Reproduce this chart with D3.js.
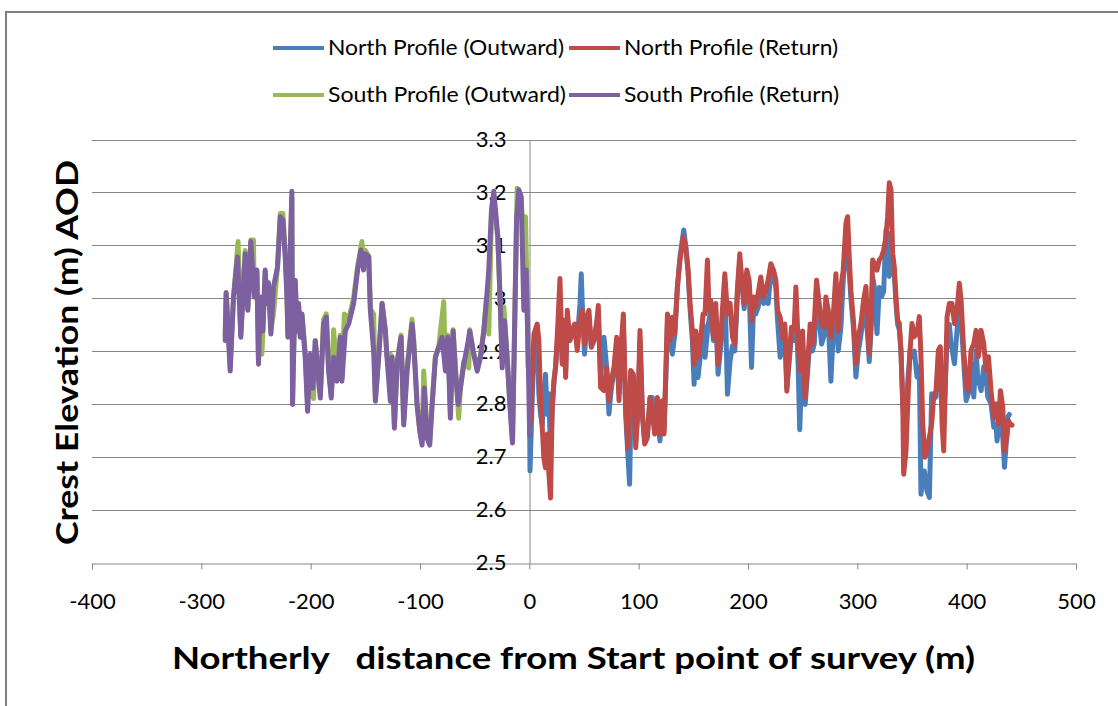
<!DOCTYPE html>
<html>
<head>
<meta charset="utf-8">
<script src="https://cdn.jsdelivr.net/npm/d3@7"></script>
<style>
  html, body { margin: 0; padding: 0; background: #fff; }
  svg { display: block; }
</style>
</head>
<body>
<script>
// Crest elevation survey: distance (m) and elevation (m AOD) pairs for each walk.
const northOutward = [
  [0.3,2.76],[0.6,2.673],[2.5,2.80],[4.2,2.90],[7.2,2.93],[8.7,2.819],[10.3,2.78],[11.8,2.76],[13.3,2.82],[14.8,2.856],
  [16.4,2.78],[17.9,2.819],[19.4,2.70],[20.9,2.79],[22.5,2.84],[24.0,2.87],[26.1,2.93],[28.0,3.00],[30.1,2.88],[31.6,2.95],
  [33.2,2.86],[34.7,2.96],[37.1,2.92],[39.3,2.94],[41.4,2.93],[43.8,2.92],[46.3,2.99],[47.5,3.046],[48.4,2.99],[50.5,2.894],
  [52.4,2.95],[54.5,2.96],[56.7,2.91],[59.1,2.92],[61.5,2.95],[63.1,2.97],[65.2,2.85],[68.3,2.926],[70.7,2.87],[72.8,2.781],
  [75.0,2.83],[77.4,2.86],[79.9,2.91],[82.0,2.82],[83.5,2.88],[86.0,2.95],[88.1,2.78],[90.2,2.70],[91.7,2.648],[93.5,2.85],
  [95.1,2.85],[97.3,2.73],[99.4,2.79],[101.2,2.92],[103.4,2.78],[105.5,2.73],[107.9,2.74],[110.4,2.812],[112.5,2.812],[114.7,2.76],
  [117.1,2.78],[119.5,2.73],[121.7,2.80],[123.2,2.75],[124.7,2.84],[126.3,2.95],[128.7,2.92],[130.8,2.894],[133.0,2.93],[135.4,3.02],
  [137.8,3.078],[141.2,3.129],[143.0,3.10],[145.2,3.05],[147.0,2.98],[149.1,2.92],[150.7,2.837],[152.2,2.92],[154.3,2.85],[156.8,2.90],
  [158.9,2.95],[160.7,2.888],[162.9,2.938],[164.4,2.96],[165.9,2.98],[168.4,2.92],[170.5,2.97],[172.6,2.856],[175.1,2.91],[176.6,2.96],
  [178.8,3.03],[181.2,2.818],[183.6,2.881],[185.8,2.91],[187.9,2.90],[190.4,3.01],[192.5,3.07],[194.3,3.03],[196.5,2.98],[198.9,3.04],
  [201.0,3.02],[203.2,2.869],[205.0,2.98],[207.1,2.97],[209.3,2.983],[211.7,3.02],[214.2,2.99],[216.3,3.00],[218.4,2.99],[220.9,3.05],
  [223.3,3.04],[225.5,3.02],[227.0,2.96],[229.4,2.888],[231.6,2.91],[233.7,2.94],[235.5,2.83],[237.7,2.88],[239.8,2.93],[242.2,2.92],
  [243.8,2.99],[245.9,2.87],[247.3,2.751],[249.9,2.90],[252.3,2.799],[254.5,2.86],[256.9,2.93],[259.0,2.90],[260.6,2.913],[262.7,3.00],
  [265.1,2.96],[267.3,2.913],[269.7,2.93],[271.2,2.98],[273.4,2.96],[275.8,2.843],[278.3,2.95],[280.4,2.98],[282.5,2.90],[285.0,2.945],
  [287.1,3.034],[289.6,3.10],[291.1,3.07],[292.6,3.05],[294.1,3.00],[296.6,2.94],[298.7,2.851],[300.9,2.90],[303.3,2.93],[305.7,2.97],
  [307.9,2.965],[309.4,2.93],[310.9,2.88],[312.5,2.94],[314.0,3.04],[315.5,3.022],[318.0,2.933],[320.1,3.02],[322.2,3.003],[324.1,3.013],
  [326.2,3.129],[327.7,3.123],[329.2,3.041],[330.8,3.06],[332.3,3.07],[333.8,3.05],[335.3,2.99],[336.9,2.95],[338.4,2.94],[339.9,2.90],
  [341.5,2.80],[343.0,2.762],[344.5,2.74],[346.0,2.838],[348.2,2.90],[350.6,2.889],[352.1,2.90],[354.6,2.851],[356.7,2.87],[358.2,2.629],
  [359.8,2.66],[361.3,2.673],[363.7,2.635],[365.9,2.623],[368.0,2.819],[369.8,2.81],[372.0,2.813],[374.1,2.88],[375.0,2.901],[377.5,2.80],
  [379.0,2.762],[380.5,2.84],[382.1,2.93],[384.2,2.95],[385.7,2.914],[388.8,2.876],[391.2,2.94],[393.3,2.98],[394.9,2.96],[397.3,2.88],
  [399.5,2.806],[401.6,2.82],[404.0,2.876],[406.5,2.813],[408.6,2.90],[410.1,2.851],[413.2,2.825],[415.6,2.87],[417.8,2.85],[419.3,2.813],
  [422.3,2.80],[424.8,2.756],[426.9,2.76],[427.8,2.73],[430.0,2.775],[433.0,2.737],[434.6,2.68],[436.7,2.74],[437.6,2.775],[439.0,2.78]
];

const northReturn = [
  [1.1,2.768],[4.2,2.932],[7.2,2.951],[8.7,2.920],[10.3,2.806],[11.8,2.755],[13.3,2.698],[14.8,2.679],[16.4,2.743],[17.9,2.667],
  [19.4,2.622],[20.9,2.793],[22.5,2.844],[24.0,2.869],[26.1,2.951],[28.0,3.037],[30.1,2.875],[31.6,2.958],[33.2,2.850],[34.7,2.977],
  [37.1,2.920],[39.3,2.939],[41.4,2.951],[43.8,2.901],[46.3,2.958],[48.4,2.977],[50.5,2.913],[52.4,2.964],[54.5,2.977],[56.7,2.907],
  [59.1,2.920],[61.5,2.951],[63.1,2.986],[65.2,2.831],[68.3,2.825],[70.7,2.869],[72.8,2.806],[75.0,2.844],[77.4,2.869],[79.9,2.926],
  [82.0,2.806],[83.5,2.894],[86.0,2.970],[88.1,2.793],[90.2,2.717],[92.7,2.863],[95.1,2.856],[97.3,2.717],[99.4,2.793],[101.2,2.939],
  [103.4,2.781],[105.5,2.724],[107.9,2.736],[110.4,2.812],[112.5,2.781],[114.7,2.743],[117.1,2.812],[119.5,2.743],[121.7,2.806],[123.2,2.743],
  [124.7,2.850],[126.3,2.970],[128.7,2.920],[130.8,2.964],[133.0,2.932],[135.4,3.021],[137.8,3.072],[140.9,3.116],[143.0,3.097],[145.2,3.053],
  [147.0,2.990],[149.1,2.938],[150.7,2.875],[152.2,2.938],[154.3,2.888],[156.8,2.926],[158.9,2.970],[160.7,2.970],[162.9,3.072],[164.4,2.977],
  [165.9,2.996],[168.4,2.926],[170.5,2.990],[172.6,2.875],[175.1,2.926],[176.6,2.977],[178.8,3.046],[181.2,2.970],[183.6,2.990],[185.8,2.926],
  [187.9,2.913],[190.4,3.021],[192.5,3.084],[194.3,3.034],[196.5,2.990],[198.9,3.053],[201.0,3.034],[203.2,2.957],[205.0,3.002],[207.1,2.983],
  [209.3,3.009],[211.7,3.040],[214.2,3.002],[216.3,3.015],[218.4,3.034],[220.9,3.065],[223.3,3.053],[225.5,3.034],[227.0,2.977],[229.4,2.964],
  [231.6,2.926],[233.7,2.951],[235.5,2.824],[237.7,2.894],[239.8,2.945],[242.2,2.938],[243.8,3.021],[245.9,2.913],[247.7,2.862],[249.9,2.938],
  [252.3,2.811],[254.5,2.875],[256.9,2.951],[259.0,2.913],[260.6,2.951],[262.7,3.034],[265.1,2.990],[267.3,2.951],[269.7,2.945],[271.2,3.002],
  [273.4,2.977],[275.8,2.926],[278.3,2.977],[280.4,3.046],[282.5,2.938],[285.0,3.021],[287.1,3.053],[289.6,3.142],[291.1,3.154],[292.6,3.078],
  [294.1,3.015],[296.6,2.952],[298.7,2.876],[300.9,2.927],[303.3,2.952],[305.7,2.996],[307.9,3.022],[309.4,2.952],[310.9,2.895],[312.5,2.952],
  [314.0,3.072],[315.5,3.066],[318.0,3.053],[320.1,3.072],[322.2,3.078],[324.1,3.091],[326.2,3.116],[327.7,3.154],[329.2,3.218],[330.8,3.205],
  [332.3,3.085],[333.8,3.059],[335.3,3.003],[336.9,2.958],[338.4,2.952],[339.9,2.901],[341.5,2.806],[342.4,2.667],[344.5,2.711],[346.0,2.794],
  [348.2,2.901],[350.0,2.952],[352.1,2.927],[354.6,2.933],[356.7,2.965],[358.2,2.889],[359.8,2.762],[361.9,2.699],[363.7,2.711],[365.9,2.737],
  [368.0,2.762],[369.8,2.813],[372.0,2.825],[374.1,2.901],[375.9,2.908],[377.5,2.762],[379.0,2.711],[380.5,2.838],[382.1,2.965],[384.2,2.990],
  [386.6,2.990],[388.8,2.952],[391.2,2.977],[393.3,3.028],[394.9,2.996],[397.3,2.901],[399.5,2.838],[401.6,2.825],[404.0,2.901],[406.5,2.914],
  [408.6,2.939],[410.7,2.889],[413.2,2.939],[415.6,2.914],[417.8,2.863],[419.9,2.889],[422.3,2.825],[424.8,2.775],[426.9,2.800],[429.1,2.762],
  [430.9,2.825],[433.0,2.794],[434.6,2.711],[436.7,2.737],[438.2,2.768],[440.0,2.762],[441.5,2.760]
];

const southOutward = [
  [-278.2,2.93],[-277.3,3.01],[-275.8,2.96],[-273.6,2.87],[-270.6,3.00],[-266.4,3.107],[-263.9,2.93],[-259.9,3.09],[-257.5,2.98],[-254.7,3.11],
  [-252.3,3.11],[-251.7,3.01],[-249.2,3.05],[-247.7,2.88],[-246.2,3.00],[-244.6,2.894],[-241.6,3.05],[-240.1,2.99],[-238.6,3.03],[-236.4,2.94],
  [-234.0,2.97],[-230.3,3.06],[-227.8,3.16],[-225.4,3.16],[-223.3,3.09],[-221.7,3.01],[-220.8,2.93],[-217.2,3.19],[-216.6,2.80],[-214.1,3.03],
  [-212.6,2.95],[-211.1,2.99],[-209.6,2.93],[-208.0,2.97],[-205.0,2.90],[-202.8,2.80],[-200.4,2.89],[-197.4,2.81],[-195.8,2.92],[-191.2,2.82],
  [-188.2,2.96],[-185.7,2.97],[-183.6,2.87],[-181.2,2.82],[-179.0,2.94],[-176.0,2.85],[-172.9,2.93],[-171.4,2.85],[-169.2,2.97],[-165.3,2.96],
  [-160.7,3.00],[-157.1,3.06],[-153.1,3.107],[-151.6,3.06],[-150.0,3.09],[-146.9,3.08],[-145.4,2.98],[-142.4,2.97],[-140.8,2.81],[-137.8,2.89],
  [-134.7,2.99],[-131.7,2.94],[-130.2,2.89],[-127.1,2.894],[-125.6,2.89],[-123.4,2.76],[-121.0,2.88],[-117.3,2.93],[-114.9,2.77],[-111.8,2.87],
  [-107.3,2.96],[-105.7,2.92],[-102.7,2.80],[-100.2,2.75],[-98.1,2.73],[-96.6,2.862],[-93.5,2.74],[-91.1,2.73],[-88.9,2.80],[-85.9,2.89],
  [-82.8,2.91],[-78.3,2.993],[-76.7,2.87],[-74.6,2.93],[-72.2,2.78],[-69.7,2.94],[-67.6,2.87],[-64.6,2.773],[-63.0,2.83],[-60.0,2.88],
  [-55.4,2.868],[-54.5,2.94],[-51.4,2.90],[-47.7,2.87],[-44.7,2.89],[-41.6,2.94],[-39.2,3.00],[-37.1,2.932],[-34.6,3.16],[-32.5,3.19],
  [-31.0,3.16],[-28.8,3.11],[-26.4,2.98],[-24.8,2.88],[-23.3,2.983],[-20.3,2.89],[-17.8,2.80],[-15.4,2.73],[-13.6,2.93],[-11.1,3.208],
  [-9.6,3.20],[-7.5,3.19],[-5.0,3.10],[-3.5,3.154],[-2.0,3.00],[-1.2,2.87]
];

const southReturn = [
  [-278.2,2.92],[-277.3,3.01],[-275.8,2.95],[-273.6,2.862],[-270.6,3.002],[-266.9,3.078],[-263.9,2.926],[-259.9,3.084],[-257.5,2.977],[-254.7,3.107],
  [-251.7,3.002],[-249.2,3.053],[-247.7,2.875],[-246.2,3.002],[-243.7,2.938],[-241.6,3.053],[-240.1,2.990],[-238.6,3.028],[-236.4,2.932],[-234.0,3.021],
  [-230.3,3.059],[-227.8,3.154],[-225.4,3.148],[-223.3,3.078],[-221.7,3.002],[-220.8,2.926],[-217.2,3.202],[-216.6,2.799],[-214.1,3.034],[-212.6,2.938],
  [-211.1,2.990],[-209.6,2.926],[-208.0,2.970],[-205.0,2.888],[-202.8,2.786],[-200.4,2.894],[-198.0,2.830],[-195.8,2.919],[-191.2,2.811],[-188.2,2.951],
  [-185.7,2.964],[-183.6,2.862],[-181.2,2.811],[-179.0,2.888],[-176.0,2.843],[-172.9,2.926],[-171.4,2.843],[-168.3,2.938],[-165.3,2.951],[-160.7,2.990],
  [-157.1,3.053],[-154.0,3.091],[-151.6,3.053],[-150.0,3.084],[-146.9,3.078],[-145.4,2.977],[-142.4,2.900],[-140.8,2.805],[-137.8,2.888],[-134.7,2.990],
  [-131.7,2.938],[-130.2,2.888],[-127.1,2.805],[-125.6,2.888],[-123.4,2.754],[-121.0,2.875],[-117.3,2.926],[-114.9,2.760],[-111.8,2.862],[-107.3,2.951],
  [-105.7,2.913],[-102.7,2.799],[-100.2,2.748],[-98.1,2.722],[-96.0,2.830],[-93.5,2.735],[-91.1,2.722],[-88.9,2.799],[-85.9,2.888],[-82.8,2.907],
  [-79.8,2.926],[-76.7,2.862],[-74.6,2.926],[-72.2,2.773],[-69.7,2.938],[-67.6,2.862],[-65.1,2.799],[-63.0,2.830],[-60.0,2.875],[-56.9,2.907],
  [-54.5,2.938],[-51.4,2.900],[-47.7,2.862],[-44.7,2.888],[-41.6,2.938],[-39.2,2.996],[-37.1,3.053],[-34.6,3.167],[-32.5,3.202],[-31.0,3.167],
  [-28.8,3.116],[-26.4,2.977],[-24.8,2.868],[-22.7,2.957],[-20.3,2.888],[-17.8,2.799],[-15.4,2.726],[-13.6,2.926],[-11.7,3.148],[-9.6,3.205],
  [-7.5,3.192],[-5.0,2.977],[-2.9,3.053],[-1.0,2.888],[0.3,2.740]
];

const seriesNames = ["North Profile (Outward)", "North Profile (Return)", "South Profile (Outward)", "South Profile (Return)"];
const seriesColors = ["#4a7ebb", "#be4b48", "#98b954", "#7d60a0"];
const xTicks = [-400, -300, -200, -100, 0, 100, 200, 300, 400, 500];
const yTicks = [2.5, 2.6, 2.7, 2.8, 2.9, 3.0, 3.1, 3.2, 3.3];
const xTitle = "Northerly   distance from Start point of survey (m)";
const yTitle = "Crest Elevation (m) AOD";

const W = 1118, H = 706;
const gray = "#868686";
const svg = d3.select("body").append("svg").attr("width", W).attr("height", H);

// chart frame (top and left edges)
svg.append("path").attr("d", `M6,${H} L6,12 L${W},12`)
  .attr("fill", "none").attr("stroke", "#7f7f7f").attr("stroke-width", 2);

const x = d3.scaleLinear().domain([-400, 500]).range([92, 1076]);
const y = d3.scaleLinear().domain([2.5, 3.3]).range([562.5, 139.5]);

// horizontal gridlines
svg.append("g").selectAll("line").data(yTicks.slice(1)).join("line")
  .attr("x1", x(-400)).attr("x2", x(500))
  .attr("y1", d => Math.round(y(d)) + 0.5).attr("y2", d => Math.round(y(d)) + 0.5)
  .attr("stroke", gray).attr("stroke-width", 1);

// x axis along the 2.5 line
const xAxis = svg.append("g")
  .attr("transform", `translate(0,${Math.round(y(2.5)) + 0.5})`)
  .call(d3.axisBottom(x).tickValues(xTicks).tickSize(6).tickPadding(24)
    .tickFormat(d => String(d)));
xAxis.select(".domain").attr("stroke", gray);
xAxis.selectAll(".tick line").attr("stroke", gray);
xAxis.selectAll(".tick text")
  .attr("font-family", "Lato, 'Open Sans', sans-serif").attr("font-size", 22).attr("fill", "#000");

// y axis crossing at x = 0
const yAxis = svg.append("g")
  .attr("transform", `translate(${Math.round(x(0)) + 0.5},0)`)
  .call(d3.axisLeft(y).tickValues(yTicks).tickSize(0).tickPadding(23)
    .tickFormat(d => String(+d.toFixed(1))));
yAxis.select(".domain").attr("stroke", gray);
yAxis.selectAll(".tick text")
  .attr("font-family", "Lato, 'Open Sans', sans-serif").attr("font-size", 22).attr("fill", "#000");

// profile lines
const line = d3.line().x(d => x(d[0])).y(d => y(d[1]));
const allSeries = [northOutward, northReturn, southOutward, southReturn];
svg.append("g").selectAll("path").data(allSeries).join("path")
  .attr("d", line)
  .attr("fill", "none")
  .attr("stroke", (d, i) => seriesColors[i])
  .attr("stroke-width", 5)
  .attr("stroke-linejoin", "round")
  .attr("stroke-linecap", "round");

// legend
const legendPos = [
  { lx: 273, ty: 48, len: 236 },
  { lx: 569, ty: 48, len: 214 },
  { lx: 273, ty: 95, len: 238 },
  { lx: 569, ty: 95, len: 215 }
];
const legend = svg.append("g").selectAll("g").data(seriesNames).join("g")
  .attr("transform", (d, i) => `translate(${legendPos[i].lx},${legendPos[i].ty})`);
legend.append("line").attr("x1", 0).attr("x2", 51).attr("y1", 0).attr("y2", 0)
  .attr("stroke", (d, i) => seriesColors[i]).attr("stroke-width", 4);
legend.append("text").attr("x", 55).attr("y", 0).attr("dy", "0.35em")
  .attr("font-family", "Lato, 'Open Sans', sans-serif").attr("font-size", 21)
  .attr("textLength", (d, i) => legendPos[i].len).attr("lengthAdjust", "spacingAndGlyphs")
  .text(d => d);

// axis titles
svg.append("text")
  .attr("x", 172).attr("y", 669)
  .attr("font-family", "Lato, 'Open Sans', sans-serif").attr("font-weight", "bold").attr("font-size", 30)
  .attr("textLength", 803).attr("lengthAdjust", "spacingAndGlyphs")
  .style("white-space", "pre")
  .text(xTitle);

svg.append("text")
  .attr("transform", "translate(78,545) rotate(-90)")
  .attr("x", 0).attr("y", 0)
  .attr("font-family", "Lato, 'Open Sans', sans-serif").attr("font-weight", "bold").attr("font-size", 30)
  .attr("textLength", 385).attr("lengthAdjust", "spacingAndGlyphs")
  .text(yTitle);
</script>
</body>
</html>
